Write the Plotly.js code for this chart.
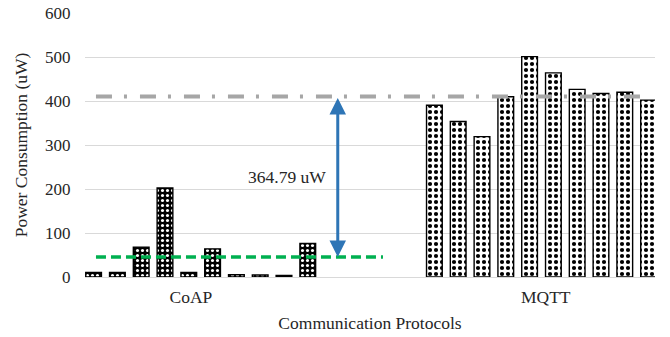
<!DOCTYPE html>
<html>
<head>
<meta charset="utf-8">
<script src="https://cdn.plot.ly/plotly-3.0.1.min.js"></script>
<style>html,body{margin:0;padding:0;background:#fff;}#chart{width:670px;height:337px;}</style>
</head>
<body>
<div id="chart"></div>
<script>
// ---- data ----
const categories = ['CoAP', 'MQTT'];
const coapPower = [10.5, 10.5, 68, 202.5, 10.5, 64, 5, 4.5, 3.5, 76];
const mqttPower = [390.5, 353.5, 319, 409.5, 500.9, 464, 426.5, 417, 420, 402];
const yTicks = [0, 100, 200, 300, 400, 500, 600];
const gapLabel = '364.79 uW';

// ---- layout constants (slot units on a numeric x axis) ----
const coapStart = 0, mqttStart = 14.32;
const labelPos = [4.09, 19.0];
const xRange = [-0.361, 23.59];
const FONT = '"Liberation Serif", "Times New Roman", serif';

const mean = a => a.reduce((s, v) => s + v, 0) / a.length;
const coapAvg = mean(coapPower), mqttAvg = mean(mqttPower);
const coapX = coapPower.map((_, i) => coapStart + i);
const mqttX = mqttPower.map((_, i) => mqttStart + i);

const traces = [
  {
    type: 'bar', x: coapX, y: coapPower, width: 0.66, name: categories[0],
    marker: {
      color: 'black',
      line: {color: 'black', width: 1.4},
      pattern: {shape: '.', bgcolor: 'black', fgcolor: 'white', size: 5, solidity: 0.3}
    },
    hoverinfo: 'y'
  },
  {
    type: 'bar', x: mqttX, y: mqttPower, width: 0.66, name: categories[1],
    marker: {
      color: 'white',
      line: {color: 'black', width: 1.4},
      pattern: {shape: '.', bgcolor: 'white', fgcolor: 'black', size: 6, solidity: 0.38}
    },
    hoverinfo: 'y'
  },
  {
    type: 'scatter', mode: 'lines', x: [0.1, 23.17], y: [mqttAvg, mqttAvg],
    line: {color: '#A6A6A6', width: 4, dash: '16px,12px,3px,13px'}, hoverinfo: 'skip'
  },
  {
    type: 'scatter', mode: 'lines', x: [0.1, 12.16], y: [coapAvg, coapAvg],
    line: {color: '#00B050', width: 3.5, dash: '10px,5px'}, hoverinfo: 'skip'
  }
];

const layout = {
  width: 670, height: 337,
  margin: {l: 85, r: 15, t: 13, b: 60},
  paper_bgcolor: 'white', plot_bgcolor: 'white',
  showlegend: false,
  font: {family: FONT, size: 17, color: '#262626'},
  xaxis: {
    type: 'linear', range: xRange, fixedrange: true,
    tickvals: labelPos, ticktext: categories,
    ticks: 'outside', ticklen: 4, tickcolor: 'rgba(0,0,0,0)',
    showgrid: false, zeroline: false,
    showline: true, linecolor: '#D9D9D9', linewidth: 1,
    tickfont: {family: FONT, size: 17.5, color: '#262626'},
    title: {text: 'Communication Protocols', font: {family: FONT, size: 17.5, color: '#262626'}, standoff: 10}
  },
  yaxis: {
    range: [0, 600], tickvals: yTicks, fixedrange: true,
    showgrid: true, gridcolor: '#D9D9D9', gridwidth: 1,
    zeroline: false, showline: false,
    ticks: 'outside', ticklen: 10, tickcolor: 'rgba(0,0,0,0)',
    tickfont: {family: FONT, size: 17, color: '#262626'},
    title: {text: 'Power Consumption (uW)', font: {family: FONT, size: 17.5, color: '#262626'}, standoff: 12}
  },
  annotations: [
    {
      x: 10.26, y: coapAvg, xref: 'x', yref: 'y',
      ax: 10.26, ay: mqttAvg, axref: 'x', ayref: 'y',
      text: '', showarrow: true, arrowside: 'end+start',
      arrowhead: 2, startarrowhead: 2, arrowsize: 1.1, startarrowsize: 1.1,
      arrowwidth: 3, arrowcolor: '#2E75B6', standoff: 0, startstandoff: 0
    },
    {
      x: 8.13, y: 227.6, xref: 'x', yref: 'y', showarrow: false,
      text: gapLabel, font: {family: FONT, size: 17.5, color: '#262626'},
      xanchor: 'center', yanchor: 'middle'
    }
  ]
};

Plotly.newPlot('chart', traces, layout, {displayModeBar: false, staticPlot: true});
</script>
</body>
</html>
